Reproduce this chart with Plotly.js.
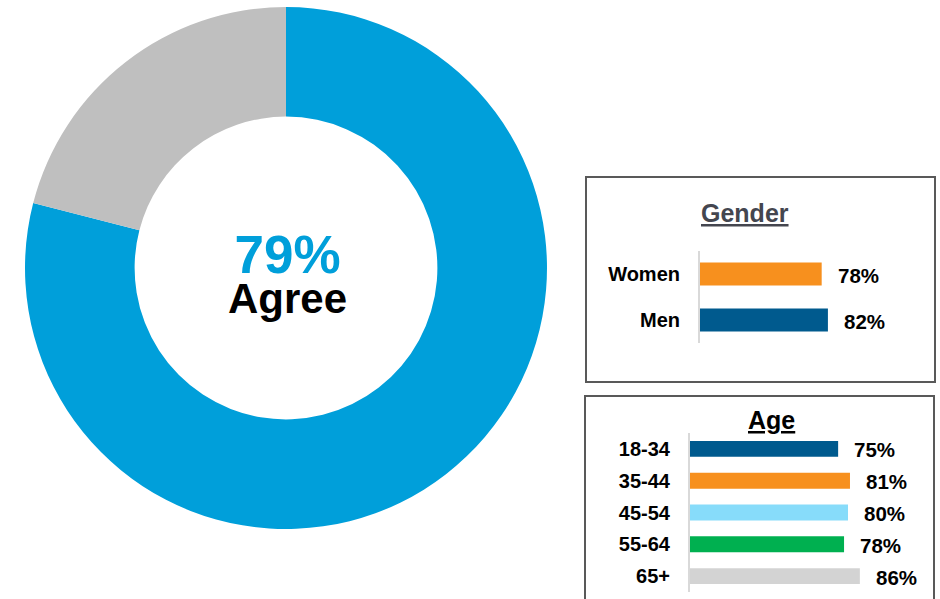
<!DOCTYPE html>
<html>
<head>
<meta charset="utf-8">
<script src="https://cdn.plot.ly/plotly-3.0.1.min.js"></script>
<style>html,body{margin:0;padding:0;background:#fff;}#chart{width:940px;height:599px;}</style>
</head>
<body>
<div id="chart"></div>
<script>
// ---- data ----
var donutLabels = ["Agree", "Other"];
var donutValues = [79, 21];
var donutColors = ["#009FDA", "#BFBFBF"];

var genderCats = ["Women", "Men"];
var genderValues = [78, 82];
var genderColors = ["#F7901E", "#005A8E"];

var ageCats = ["18-34", "35-44", "45-54", "55-64", "65+"];
var ageValues = [75, 81, 80, 78, 86];
var ageColors = ["#005A8E", "#F7901E", "#87DCFA", "#00B050", "#D3D3D3"];

// ---- layout helpers ----
var W = 940, H = 599;
function px(x) { return x / W; }
function py(y) { return 1 - y / H; }
var FONT = "Liberation Sans, Arial, sans-serif";

var traces = [
  {
    type: "pie",
    labels: donutLabels,
    values: donutValues,
    marker: { colors: donutColors, line: { width: 0 } },
    hole: 0.58,
    sort: false,
    direction: "clockwise",
    rotation: 0,
    textinfo: "none",
    hoverinfo: "none",
    showlegend: false,
    domain: { x: [px(286 - 261), px(286 + 261)], y: [py(268 + 261), py(268 - 261)] }
  },
  {
    type: "bar",
    orientation: "h",
    y: genderCats,
    x: genderValues,
    marker: { color: genderColors },
    width: 0.5,
    xaxis: "x",
    yaxis: "y",
    hoverinfo: "none",
    showlegend: false
  },
  {
    type: "bar",
    orientation: "h",
    y: ageCats,
    x: ageValues,
    marker: { color: ageColors },
    width: 0.5,
    xaxis: "x2",
    yaxis: "y2",
    hoverinfo: "none",
    showlegend: false
  }
];

var annotations = [];
genderCats.forEach(function (c, i) {
  annotations.push({
    xref: "x", yref: "y", x: genderValues[i], y: c,
    text: "<b>" + genderValues[i] + "%</b>", showarrow: false,
    xanchor: "left", yanchor: "middle", xshift: 14, yshift: -1,
    font: { family: FONT, size: 20.5, color: "#000" }
  });
});
ageCats.forEach(function (c, i) {
  annotations.push({
    xref: "x2", yref: "y2", x: ageValues[i], y: c,
    text: "<b>" + ageValues[i] + "%</b>", showarrow: false,
    xanchor: "left", yanchor: "middle", xshift: 14, yshift: -1,
    font: { family: FONT, size: 20.5, color: "#000" }
  });
});
annotations.push(
  { xref: "paper", yref: "paper", x: px(287.5), y: py(274),
    text: "<span style='font-size:53px;color:" + donutColors[0] + "'><b>" + donutValues[0] + "%</b></span>" +
          "<br><span style='font-size:42px'><b>" + donutLabels[0] + "</b></span>",
    showarrow: false, xanchor: "center", yanchor: "middle", align: "center",
    font: { family: FONT, size: 31, color: "#000" } },
  { xref: "paper", yref: "paper", x: px(745), y: py(213), text: "<b><u>Gender</u></b>",
    showarrow: false, xanchor: "center", yanchor: "middle",
    font: { family: FONT, size: 25, color: "#44464F" } },
  { xref: "paper", yref: "paper", x: px(771), y: py(420), text: "<b><u>Age</u></b>",
    showarrow: false, xanchor: "center", yanchor: "middle",
    font: { family: FONT, size: 25, color: "#000" } }
);

var layout = {
  width: W, height: H,
  margin: { l: 0, r: 0, t: 0, b: 0, pad: 0 },
  paper_bgcolor: "#fff", plot_bgcolor: "rgba(0,0,0,0)",
  showlegend: false,
  font: { family: FONT },
  xaxis: {
    domain: [px(700), px(856)], range: [0, 100],
    visible: false, fixedrange: true
  },
  yaxis: {
    domain: [py(343), py(251)], range: [1.5, -0.5],
    type: "category",
    showline: true, linecolor: "#D9D9D9", linewidth: 2,
    showgrid: false, zeroline: false, ticks: "",
    ticklabelstandoff: 14,
    tickfont: { family: FONT, size: 20, color: "#000", weight: "bold" },
    fixedrange: true
  },
  xaxis2: {
    domain: [px(690), px(887.5)], range: [0, 100],
    anchor: "y2",
    visible: false, fixedrange: true
  },
  yaxis2: {
    domain: [py(592), py(433)], range: [4.5, -0.5],
    type: "category", anchor: "x2",
    showline: true, linecolor: "#D9D9D9", linewidth: 2,
    showgrid: false, zeroline: false, ticks: "",
    ticklabelstandoff: 14,
    tickfont: { family: FONT, size: 20, color: "#000", weight: "bold" },
    fixedrange: true
  },
  shapes: [
    { type: "rect", xref: "paper", yref: "paper",
      x0: px(586), x1: px(935), y0: py(382), y1: py(177),
      line: { color: "#595959", width: 2 }, fillcolor: "rgba(0,0,0,0)" },
    { type: "rect", xref: "paper", yref: "paper",
      x0: px(585), x1: px(934), y0: py(612), y1: py(396),
      line: { color: "#595959", width: 2 }, fillcolor: "rgba(0,0,0,0)" }
  ],
  annotations: annotations
};

Plotly.newPlot("chart", traces, layout, { displayModeBar: false, staticPlot: true });
</script>
</body>
</html>
